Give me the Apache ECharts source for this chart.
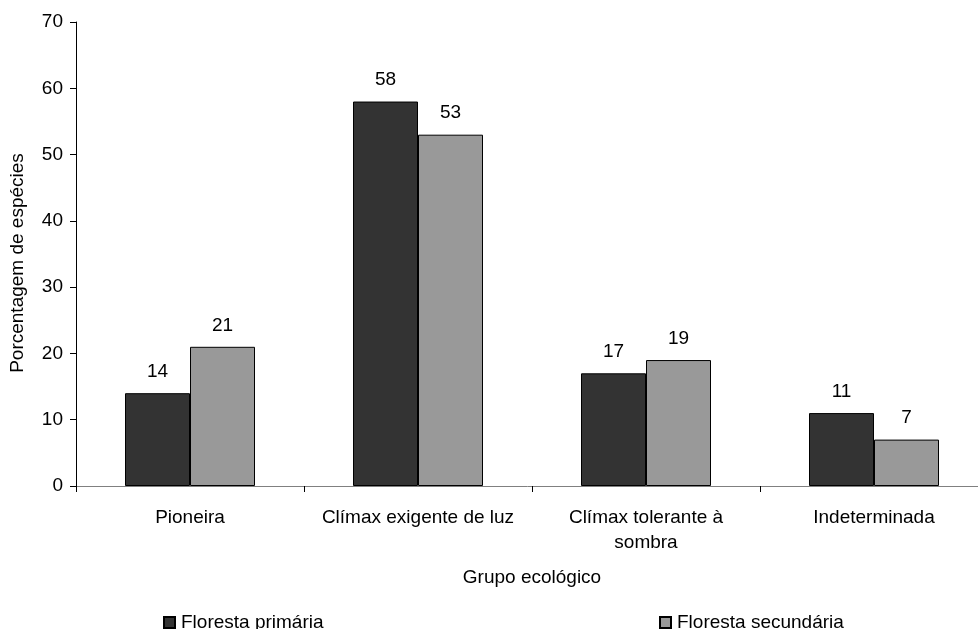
<!DOCTYPE html>
<html>
<head>
<meta charset="utf-8">
<script src="https://cdn.jsdelivr.net/npm/echarts@6/dist/echarts.min.js"></script>
<style>
  html, body { margin: 0; padding: 0; background: #fff; }
  #chart { width: 978px; height: 629px; }
</style>
</head>
<body>
<div id="chart"></div>
<script>
const categories = ["Pioneira", "Clímax exigente de luz", "Clímax tolerante à sombra", "Indeterminada"];
const primaria = [14, 58, 17, 11];
const secundaria = [21, 53, 19, 7];
const seriesNames = ["Floresta primária", "Floresta secundária"];

const chart = echarts.init(document.getElementById("chart"));
const font = "Liberation Sans, Arial, sans-serif";
const fs = 19;

// wrap category labels by character count, like the original
function wrapLabel(text, maxChars) {
  const words = text.split(" ");
  const lines = [];
  let cur = "";
  words.forEach((w) => {
    const next = cur ? cur + " " + w : w;
    if (next.length > maxChars && cur) {
      lines.push(cur);
      cur = w;
    } else {
      cur = next;
    }
  });
  if (cur) lines.push(cur);
  return lines.join("\n");
}

const labelStyle = {
  show: true,
  position: "top",
  distance: 12,
  color: "#000",
  fontSize: fs,
  fontFamily: font,
};

const legendBase = {
  top: 608,
  icon: "rect",
  itemWidth: 11,
  itemHeight: 11,
  itemGap: 5,
  textStyle: { fontSize: fs, color: "#000", fontFamily: font, padding: [0, 0, 0, 1] },
};

chart.setOption({
  animation: false,
  textStyle: { fontFamily: font },
  grid: { left: 76, top: 22, width: 912, height: 464, outerBoundsMode: "none", containLabel: false },
  legend: [
    Object.assign({ data: [seriesNames[0]], left: 158 }, legendBase),
    Object.assign({ data: [seriesNames[1]], left: 654 }, legendBase),
  ],
  xAxis: {
    type: "category",
    data: categories,
    name: "Grupo ecológico",
    nameLocation: "middle",
    nameGap: 82,
    nameTextStyle: { fontSize: fs, color: "#000", fontFamily: font },
    axisLine: { lineStyle: { color: "#808080", width: 1 } },
    axisTick: { show: true, alignWithLabel: false, length: 6, lineStyle: { color: "#000" } },
    axisLabel: {
      fontSize: fs,
      color: "#000",
      margin: 19,
      lineHeight: 25,
      interval: 0,
      formatter: (v) => wrapLabel(v, 22),
    },
  },
  yAxis: {
    type: "value",
    min: 0,
    max: 70,
    interval: 10,
    name: "Porcentagem de espécies",
    nameLocation: "middle",
    nameGap: 49,
    nameTextStyle: { fontSize: fs, color: "#000", fontFamily: font, padding: [0, 18, 0, 0] },
    axisLine: { show: true, lineStyle: { color: "#000", width: 1 } },
    axisTick: { show: true, length: 6, lineStyle: { color: "#000" } },
    axisLabel: { fontSize: fs, color: "#000", margin: 13 },
    splitLine: { show: false },
  },
  series: [
    {
      name: seriesNames[0],
      type: "bar",
      data: primaria,
      barWidth: 65,
      barGap: "0%",
      itemStyle: { color: "#333333", borderColor: "#000", borderWidth: 1 },
      label: labelStyle,
    },
    {
      name: seriesNames[1],
      type: "bar",
      data: secundaria,
      barWidth: 65,
      itemStyle: { color: "#999999", borderColor: "#000", borderWidth: 1 },
      label: labelStyle,
    },
  ],
});

window.addEventListener("resize", () => chart.resize());
</script>
</body>
</html>
